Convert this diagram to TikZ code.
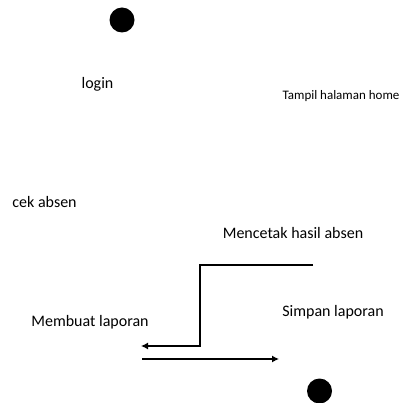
\documentclass[tikz,border=0pt]{standalone}
\usepackage{fontspec}
\setmainfont{Carlito}
\usepackage{tikz}
\usetikzlibrary{arrows.meta}

\tikzset{
  label/.style={inner sep=0pt, font=\fontsize{16}{19}\selectfont},
  small label/.style={inner sep=0pt, font=\fontsize{13}{15}\selectfont},
  flow/.style={line width=1.2pt, -{Latex[length=7pt,width=7pt]}}
}

\begin{document}
\begin{tikzpicture}[x=1pt,y=-1pt]
		\useasboundingbox (0,0) rectangle (401,403);
		% start
		\fill (122,20) circle (12.5);
		% labels
		\node[label] (login) at (97.5,84.5) {login};
		\node[small label] (home) at (341,96) {Tampil halaman home};
		\node[label] (cek) at (44.5,202) {cek absen};
		\node[label] (cetak) at (293,233) {Mencetak hasil absen};
		\node[label] (simpan) at (333,312.5) {Simpan laporan};
		\node[label] (buat) at (90,322) {Membuat laporan};
		% connectors
		\coordinate (a1) at (313,265);
		\coordinate (a2) at (200,265);
		\coordinate (a3) at (200,346);
		\coordinate (a4) at (141,346);
		\draw[flow] (a1) -- (a2) -- (a3) -- (a4);
		\coordinate (b1) at (142,359);
		\coordinate (b2) at (279,359);
		\draw[flow] (b1) -- (b2);
		% end
		\fill (319.5,391) circle (12.5);
	\end{tikzpicture}
\end{document}
